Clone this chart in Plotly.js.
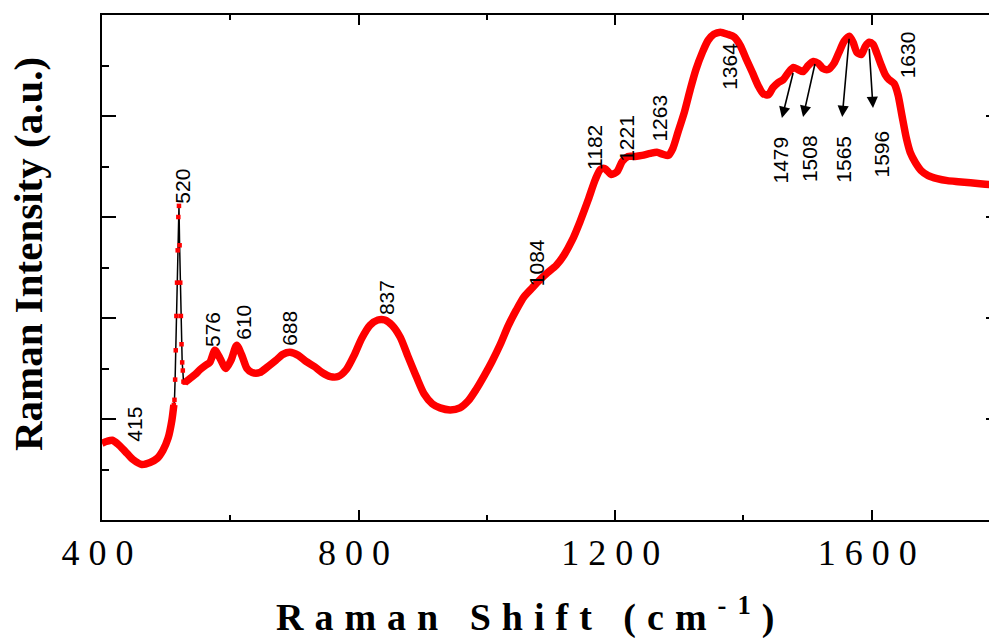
<!DOCTYPE html>
<html>
<head>
<meta charset="utf-8">
<script src="https://cdn.plot.ly/plotly-3.0.1.min.js"></script>
<style>
  html, body { margin: 0; padding: 0; overflow: hidden; background: #fff; }
  #chart { width: 1000px; height: 638px; }
  #chart .xtick text { letter-spacing: 9px; }
  #chart .annotation[data-index="16"] text { letter-spacing: 11px; }
</style>
</head>
<body>
<div id="chart"></div>
<script>
// Raman shift (cm^-1) and intensity (a.u.) of the broad spectrum
const shift = [400, 408, 416, 425, 436, 448, 462, 475, 486, 495, 503, 509, 512,
  529, 537, 545, 553, 561, 568, 576, 584, 593, 601, 610, 618, 626, 634, 646, 659, 671, 682, 693,
  706, 718, 731, 743, 756, 768, 781, 793, 805, 818, 830, 841, 852, 865, 877, 890, 902, 915,
  927, 943, 958, 971, 983, 996, 1008, 1021, 1033, 1046, 1058, 1071, 1083, 1095, 1108, 1120,
  1133, 1145, 1158, 1169, 1177, 1184, 1194, 1203, 1211, 1220, 1231, 1242, 1255, 1265, 1275,
  1283, 1290, 1298, 1308, 1317, 1326, 1336, 1345, 1354, 1364, 1375, 1386, 1395, 1404, 1414,
  1423, 1431, 1439, 1446, 1454, 1462, 1470, 1478, 1485, 1493, 1501, 1509, 1517, 1524, 1532,
  1541, 1549, 1557, 1565, 1571, 1577, 1584, 1590, 1596, 1602, 1608, 1615, 1621, 1627, 1635,
  1641, 1647, 1654, 1660, 1668, 1677, 1688, 1702, 1718, 1735, 1754, 1769, 1785, 1800];
const intensity = [0.76, 0.78, 0.79, 0.75, 0.68, 0.60, 0.55, 0.57, 0.61, 0.69, 0.81, 0.99, 1.14,
  1.36, 1.40, 1.44, 1.49, 1.53, 1.56, 1.68, 1.60, 1.50, 1.58, 1.73, 1.63, 1.50, 1.46, 1.46, 1.52, 1.58, 1.64, 1.66,
  1.63, 1.57, 1.52, 1.46, 1.42, 1.42, 1.49, 1.63, 1.80, 1.93, 1.98, 1.98, 1.93, 1.81, 1.62, 1.42, 1.25, 1.15,
  1.11, 1.09, 1.11, 1.18, 1.29, 1.43, 1.57, 1.74, 1.92, 2.08, 2.21, 2.30, 2.38, 2.45, 2.52, 2.62,
  2.77, 2.95, 3.17, 3.37, 3.47, 3.48, 3.42, 3.45, 3.55, 3.60, 3.60, 3.61, 3.63, 3.64, 3.62,
  3.61, 3.68, 3.84, 4.04, 4.26, 4.46, 4.63, 4.75, 4.81, 4.83, 4.81, 4.78, 4.70, 4.57, 4.43,
  4.30, 4.22, 4.21, 4.28, 4.33, 4.36, 4.43, 4.48, 4.46, 4.44, 4.50, 4.54, 4.52, 4.47, 4.46,
  4.52, 4.63, 4.74, 4.79, 4.73, 4.63, 4.61, 4.69, 4.73, 4.71, 4.62, 4.50, 4.41, 4.36, 4.32,
  4.21, 4.01, 3.78, 3.64, 3.54, 3.46, 3.41, 3.38, 3.36, 3.35, 3.34, 3.33, 3.32, 3.31];
// Sharp silicon band near 520 cm^-1 (drawn with its individual points)
const siShift = [512, 513, 514, 515, 516, 517, 518, 519, 520, 521, 522, 523, 524, 525, 526, 527, 529];
const siIntensity = [1.14, 1.19, 1.39, 1.68, 2.02, 2.35, 2.67, 3.00, 3.11, 2.72, 2.35, 2.02, 1.74, 1.56, 1.48, 1.37, 1.36];
// Peak labels
const peakLabels = [415, 520, 576, 610, 688, 837, 1084, 1182, 1221, 1263, 1364, 1479, 1508, 1565, 1596, 1630];
// Arrows for the 1479-1596 group: tail on the band, head above the label
const arrowTailShift = [1478, 1512, 1565, 1596];
const arrowTailInt = [4.44, 4.53, 4.78, 4.68];
const arrowHeadShift = [1460, 1493, 1554, 1602];
const arrowHeadInt = [3.98, 3.99, 3.99, 4.08];
const xTickVals = [400, 800, 1200, 1600];

// label placement (layout only)
const labelY = [0.95, 3.31, 1.89, 1.96, 1.90, 2.20, 2.55, 3.69, 3.78, 3.98, 4.49, 3.56, 3.58, 3.57, 3.62, 4.61];
const labelDx = [22, 4, -3, 6, 2, 4, -4, -9, -2, 3, 9, -14, -3, -6, 12, 16];

// break the broad trace where the narrow Si band is drawn
const mainX = shift.slice(0, 13).concat([520], shift.slice(13));
const mainY = intensity.slice(0, 13).concat([null], intensity.slice(13));

const traces = [
  {
    x: mainX, y: mainY, type: 'scatter', mode: 'lines',
    line: {color: '#ff0000', width: 7.5, shape: 'spline', smoothing: 0.7}, connectgaps: false
  },
  {
    x: siShift, y: siIntensity, type: 'scatter', mode: 'lines+markers',
    line: {color: '#000000', width: 1.5},
    marker: {color: '#ff0000', symbol: 'square', size: 4.5}
  }
];

const annotations = peakLabels.map((p, i) => ({
  x: p, y: labelY[i], xref: 'x', yref: 'y', xshift: labelDx[i],
  text: String(p), showarrow: false, textangle: -90,
  font: {family: 'Liberation Sans, Arial, sans-serif', size: 21, color: '#000'}
}));
// x-axis title (index 16)
annotations.push({
  xref: 'paper', yref: 'paper', x: (530 - 102) / 898, y: -(614 - 520) / 505,
  xanchor: 'center', yanchor: 'middle', showarrow: false,
  text: '<b>Raman Shift (cm<sup>-1</sup>)</b>',
  font: {family: 'Liberation Serif, Times New Roman, serif', size: 38, color: '#000'}
});
// y-axis title
annotations.push({
  xref: 'paper', yref: 'paper', x: (28 - 102) / 898, y: (520 - 254) / 505,
  xanchor: 'center', yanchor: 'middle', showarrow: false, textangle: -90,
  text: '<b>Raman Intensity (a.u.)</b>',
  font: {family: 'Liberation Serif, Times New Roman, serif', size: 41, color: '#000'}
});
arrowTailShift.forEach((t, i) => {
  annotations.push({
    x: arrowHeadShift[i], y: arrowHeadInt[i], xref: 'x', yref: 'y',
    ax: t, ay: arrowTailInt[i], axref: 'x', ayref: 'y',
    text: '', showarrow: true, arrowhead: 2, arrowsize: 1.4, arrowwidth: 1.6, arrowcolor: '#000'
  });
});

const layout = {
  width: 1000, height: 638,
  margin: {l: 102, r: 0, t: 15, b: 118},
  paper_bgcolor: '#fff', plot_bgcolor: '#fff',
  showlegend: false,
  xaxis: {
    range: [400, 1800], tickvals: xTickVals,
    ticks: 'inside', ticklen: 10, tickwidth: 2, tickcolor: '#000',
    showline: true, linewidth: 2, linecolor: '#000', mirror: 'allticks',
    showgrid: false, zeroline: false,
    tickfont: {family: 'Liberation Serif, Times New Roman, serif', size: 36, color: '#000'},
    minor: {dtick: 200, tick0: 400, ticks: 'inside', ticklen: 5, tickwidth: 2, tickcolor: '#000', showgrid: false}
  },
  yaxis: {
    range: [0, 5], dtick: 1, tick0: 0, showticklabels: false,
    ticks: 'inside', ticklen: 14, tickwidth: 2, tickcolor: '#000',
    showline: true, linewidth: 2, linecolor: '#000', mirror: 'allticks',
    showgrid: false, zeroline: false,
    minor: {dtick: 0.5, tick0: 0, ticks: 'inside', ticklen: 7, tickwidth: 2, tickcolor: '#000', showgrid: false}
  },
  annotations: annotations
};

Plotly.newPlot('chart', traces, layout, {displayModeBar: false, staticPlot: true});
</script>
</body>
</html>
